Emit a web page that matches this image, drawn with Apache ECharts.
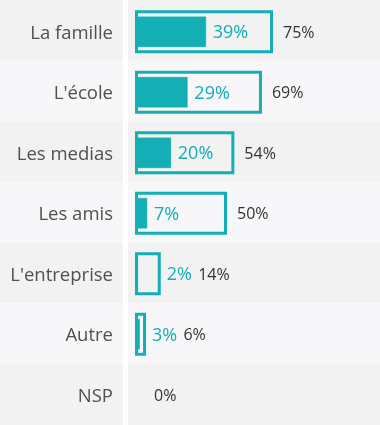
<!DOCTYPE html>
<html>
<head>
<meta charset="utf-8">
<script src="https://cdn.jsdelivr.net/npm/echarts@6/dist/echarts.min.js"></script>
<style>
html,body{margin:0;padding:0;background:#ffffff;}
#chart{width:380px;height:425px;}
</style>
</head>
<body>
<div id="chart"></div>
<script>
const categories = ['La famille', "L'école", 'Les medias', 'Les amis', "L'entreprise", 'Autre', 'NSP'];
const totals = [75, 69, 54, 50, 14, 6, 0];
const values = [39, 29, 20, 7, 2, 3, 0];

const TEAL = '#13afb4';
const FONT = 'Open Sans';
const PX_PER_UNIT = 1.84;

const chart = echarts.init(document.getElementById('chart'), null, {renderer: 'canvas'});

function fitsInside(i) {
  return (totals[i] - values[i]) * PX_PER_UNIT >= 45;
}

const innerData = values.map((v, i) => ({
  value: v,
  itemStyle: {borderWidth: v > 0 ? 1 : 0},
  label: {show: v > 0 && fitsInside(i)}
}));

const outlineData = totals.map((t, i) => ({
  value: t,
  itemStyle: {borderWidth: t > 0 ? 3 : 0},
  label: {distance: t === 0 ? 19 : (fitsInside(i) ? 10 : 6)}
}));

const stripeAxis = (grid) => ({
  type: 'category', gridIndex: grid, data: categories, inverse: true,
  axisLine: {show: false}, axisTick: {show: false}, axisLabel: {show: false},
  splitLine: {show: false},
  splitArea: {show: true, areaStyle: {color: ['#f2f2f2', '#f7f7f9']}}
});

const option = {
  animation: false,
  backgroundColor: '#ffffff',
  grid: [
    {left: 0, top: 0, width: 123, height: 428},
    {left: 128, top: 0, right: 0, height: 428},
    {left: 135, top: 1.5, width: 184, height: 428}
  ],
  xAxis: [
    {type: 'value', gridIndex: 0, show: false},
    {type: 'value', gridIndex: 1, show: false},
    {type: 'value', gridIndex: 2, show: false, min: 0, max: 100}
  ],
  yAxis: [
    stripeAxis(0),
    stripeAxis(1),
    {
      type: 'category', gridIndex: 2, data: categories, inverse: true,
      axisLine: {show: false}, axisTick: {show: false}, splitLine: {show: false},
      axisLabel: {show: true, margin: 22, color: '#505050', fontSize: 18.5, fontFamily: FONT,
                  verticalAlign: 'top', lineHeight: 3}
    },
    {
      type: 'category', gridIndex: 2, data: categories, inverse: true, show: false
    }
  ],
  series: [
    {
      type: 'bar', xAxisIndex: 2, yAxisIndex: 2, data: innerData, barWidth: 32,
      itemStyle: {color: TEAL, borderColor: 'rgba(255,255,255,0.45)', borderWidth: 1},
      label: {
        position: 'right', distance: 6, offset: [0, 1.5], color: TEAL, fontSize: 18, fontFamily: FONT,
        formatter: p => p.value + '%'
      },
      z: 2
    },
    {
      type: 'bar', xAxisIndex: 2, yAxisIndex: 3, data: outlineData, barWidth: 43,
      itemStyle: {color: 'rgba(0,0,0,0)', borderColor: TEAL, borderWidth: 3},
      label: {
        show: true, position: 'right', offset: [0, 1.5], fontFamily: FONT,
        formatter: p => {
          const i = p.dataIndex;
          if (values[i] > 0 && !fitsInside(i)) {
            return '{v|' + values[i] + '%}  {t|' + totals[i] + '%}';
          }
          return '{t|' + totals[i] + '%}';
        },
        rich: {
          v: {color: TEAL, fontSize: 18, fontFamily: FONT},
          t: {color: '#333333', fontSize: 16, fontFamily: FONT}
        }
      },
      z: 3
    }
  ]
};
chart.setOption(option);
</script>
</body>
</html>
